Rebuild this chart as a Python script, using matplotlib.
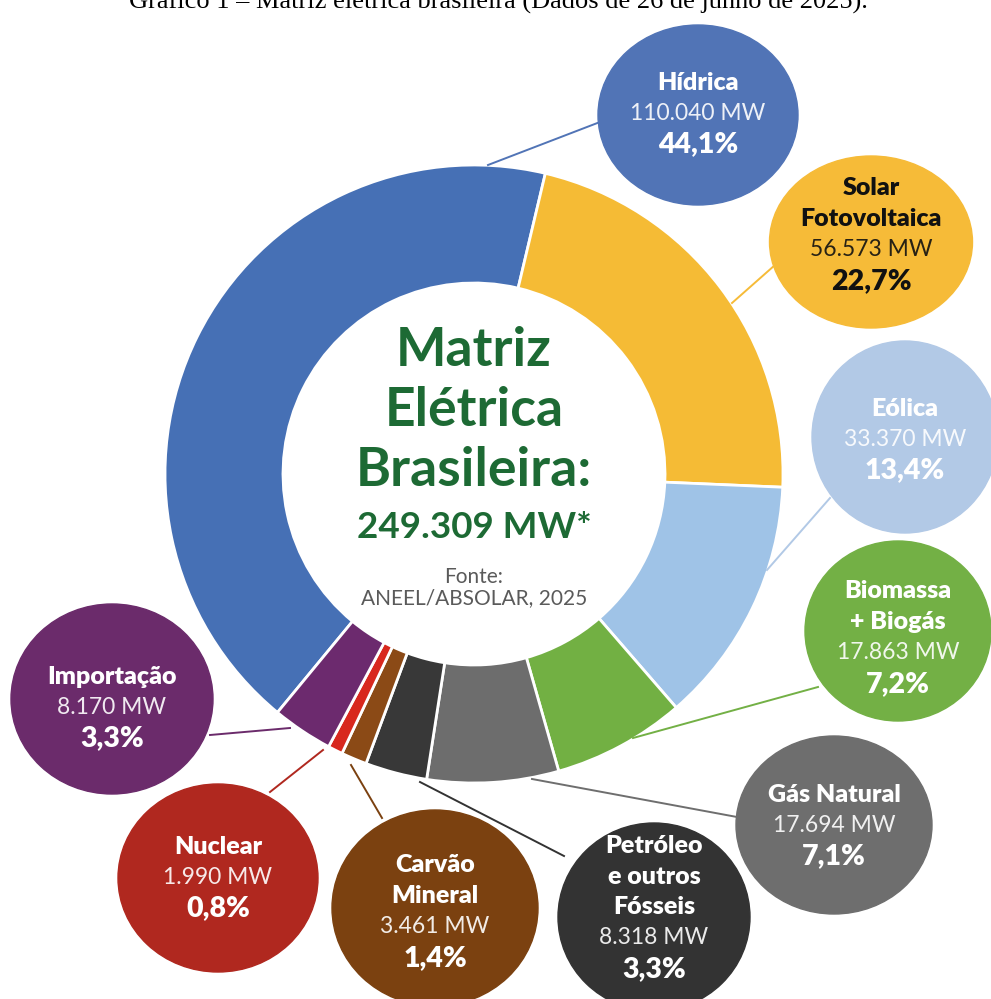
import matplotlib.pyplot as plt
from matplotlib.patches import Ellipse

# ---------------------------------------------------------------------------
# Data
# ---------------------------------------------------------------------------
fontes = ["Hídrica", "Solar\nFotovoltaica", "Eólica", "Biomassa\n+ Biogás", "Gás Natural",
          "Petróleo\ne outros\nFósseis", "Carvão\nMineral", "Nuclear", "Importação"]
potencia_mw = [110040, 56573, 33370, 17863, 17694, 8318, 3461, 1990, 8170]
potencia_txt = ["110.040 MW", "56.573 MW", "33.370 MW", "17.863 MW", "17.694 MW",
                "8.318 MW", "3.461 MW", "1.990 MW", "8.170 MW"]
percentual_txt = ["44,1%", "22,7%", "13,4%", "7,2%", "7,1%", "3,3%", "1,4%", "0,8%", "3,3%"]
total_txt = "249.309 MW*"

# ---------------------------------------------------------------------------
# Style / layout (pixel coordinates, y pointing down)
# ---------------------------------------------------------------------------
cores_anel = ["#4670b5", "#f5bb35", "#9fc3e7", "#72b043", "#6d6d6d",
              "#383838", "#8b4a16", "#d8281e", "#6c2a6e"]
cores_bolha = ["#5174b6", "#f6bb38", "#b2c9e6", "#73b045", "#6e6e6e",
               "#333333", "#7b4110", "#b0281f", "#6b2b6b"]
cores_texto = ["white", "#111111", "white", "white", "white",
               "white", "white", "white", "white"]
centros_bolha = [(698, 115), (871, 242), (905, 437), (898, 631), (834, 825),
                 (654, 917), (435, 908), (218, 878), (112, 699)]
tamanhos_bolha = [(200, 180), (203, 172), (186, 192), (186, 180), (196, 178),
                  (192, 188), (206, 196), (200, 188), (202, 190)]
texto_y = [113, 234, 439, 637, 825, 907, 911, 877, 707]
linhas_guia = [((488, 165), (600, 122)), ((732, 303), (775, 265)), ((767, 570), (830, 498)),
               ((633, 738), (818, 687)), ((532, 779), (737, 817)), ((420, 782), (564, 856)),
               ((351, 765), (382, 818)), ((323, 750), (270, 792)), ((290, 728), (210, 735))]

CX, CY, R_EXT, LARGURA = 474, 474, 309, 118
VERDE = "#1d6a34"

plt.rcParams["font.family"] = ["Lato", "DejaVu Sans"]

fig = plt.figure(figsize=(9.91, 9.99), dpi=100)
ax = fig.add_axes([0, 0, 1, 1])

# Donut (y axis inverted, so counterclockwise in data is clockwise on screen)
ax.pie(potencia_mw, colors=cores_anel, startangle=129.5, center=(CX, CY), radius=R_EXT,
       wedgeprops=dict(width=LARGURA, edgecolor="white", linewidth=2))

# Leader lines
for (p0, p1), cor in zip(linhas_guia, cores_bolha):
    ax.plot([p0[0], p1[0]], [p0[1], p1[1]], color=cor, lw=1.4, zorder=1)

# Bubbles with labels
passo = 30.5
for i, nome in enumerate(fontes):
    x, y = centros_bolha[i]
    w, h = tamanhos_bolha[i]
    ax.add_patch(Ellipse((x, y), w, h, color=cores_bolha[i], zorder=3))
    linhas = nome.split("\n")
    n = len(linhas)
    y0 = texto_y[i] - passo * (n + 1) / 2
    for k, ln in enumerate(linhas):
        ax.text(x, y0 + k * passo, ln, ha="center", va="center", fontsize=18,
                fontweight="heavy", color=cores_texto[i], zorder=4)
    ax.text(x, y0 + n * passo, potencia_txt[i], ha="center", va="center", fontsize=16.5,
            fontweight="normal", color=cores_texto[i], alpha=0.9, zorder=4)
    ax.text(x, y0 + (n + 1) * passo + 1, percentual_txt[i], ha="center", va="center",
            fontsize=20.5, fontweight="heavy", color=cores_texto[i], zorder=4)

# Center text
ax.text(CX, 350, "Matriz", ha="center", va="center", fontsize=38.5, fontweight="bold", color=VERDE)
ax.text(CX, 411, "Elétrica", ha="center", va="center", fontsize=38.5, fontweight="bold", color=VERDE)
ax.text(CX, 470, "Brasileira:", ha="center", va="center", fontsize=38.5, fontweight="bold", color=VERDE)
ax.text(CX, 528, total_txt, ha="center", va="center", fontsize=26.5, fontweight="bold", color=VERDE)
ax.text(CX, 577, "Fonte:", ha="center", va="center", fontsize=15, color="#5a5a5a")
ax.text(CX, 598, "ANEEL/ABSOLAR, 2025", ha="center", va="center", fontsize=15, color="#5a5a5a")

ax.set_xlim(0, 991)
ax.set_ylim(999, 0)
ax.axis("off")

fig.text(498 / 991, 1 - 9 / 999, "Gráfico 1 – Matriz elétrica brasileira (Dados de 26 de junho de 2025).",
         ha="center", va="baseline", fontsize=19, family="Liberation Serif")

fig.savefig("out.png", dpi=100)
